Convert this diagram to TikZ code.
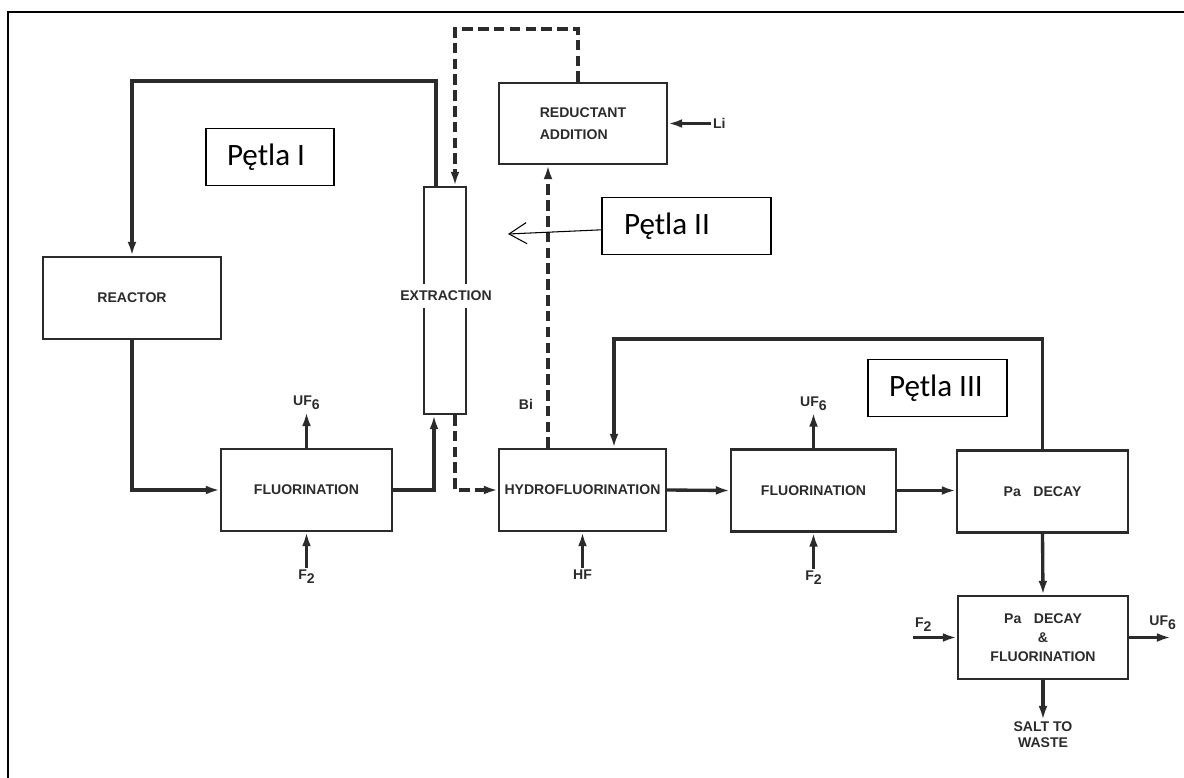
\documentclass[tikz,border=0pt]{standalone}
\usepackage{fontspec}
\setmainfont{Liberation Sans}
\newfontfamily\petlafont{Carlito}
\usepackage{tikz}
\usetikzlibrary{positioning,arrows.meta,calc}
\definecolor{ink}{HTML}{2B2B2B}
\newcommand{\lowsub}[1]{\raisebox{-0.55ex}{#1}}

\begin{document}
\begin{tikzpicture}[
  x=0.02cm, y=-0.02cm,
  stage/.style={draw=ink, line width=1.2pt, minimum height=1.64cm, inner sep=0pt, text=ink, align=center, font=\fontsize{8}{11}\selectfont\bfseries},
  lbl/.style={font=\fontsize{8}{9}\selectfont\bfseries, text=ink, inner sep=1pt, align=center},
  flow/.style={draw=ink, line width=1.9pt, -{Latex[length=8pt,width=5pt]}},
  dflow/.style={flow, line width=2.2pt, dash pattern=on 6pt off 3pt},
  pbox/.style={draw, line width=0.6pt, minimum height=1.14cm, inner xsep=0pt, align=left, font=\petlafont\fontsize{17.7}{20}\selectfont},
  pointer/.style={draw, line width=0.6pt, -{Straight Barb[length=10pt,width=12pt]}}
]
  \useasboundingbox (0,0) rectangle (1184,778);

  % --- frame ---
  \coordinate (fne) at (1184,12);
  \coordinate (fnw) at (8,12);
  \coordinate (fsw) at (8,778);
  \draw[line width=1.2pt] (fne) -- (fnw) -- (fsw);

  % --- stages ---
  \node[stage, minimum width=3.56cm] (reactor) at (132,298) {REACTOR};
  \node[stage, minimum width=3.42cm] (fluorA) at (306.5,490) {FLUORINATION};
  \node[draw=ink, line width=1.2pt, minimum width=0.84cm, minimum height=4.54cm, inner sep=0pt] (extr) at (445,300.5) {};
  \node[lbl, fill=white, inner ysep=4pt] (extrlbl) at (446,296) {EXTRACTION};
  \node[stage, minimum width=3.36cm, minimum height=1.62cm, align=left, font=\fontsize{8}{12.5}\selectfont\bfseries] (redu) at (583,123.5) {REDUCTANT\\ADDITION};
  \node[stage, minimum width=3.34cm] (hydro) at (582.5,490) {HYDROFLUORINATION};
  \node[stage, minimum width=3.30cm] (fluorB) at (813.5,490.5) {FLUORINATION};
  \node[stage, minimum width=3.42cm] (padecay) at (1042.5,491.5) {Pa\hspace{0.9em}DECAY};
  \node[stage, minimum width=3.40cm, minimum height=1.66cm] (pafluor) at (1043,637.5) {Pa\hspace{0.9em}DECAY\\\&\\FLUORINATION};

  % --- loop I ---
  \coordinate (l1) at (436,81);
  \coordinate (upln) at (434,0);
  \draw[flow] (l1 |- extr.north) -- (l1) -| (reactor.north);
  \draw[flow] (reactor.south) |- (fluorA.west);
  \draw[flow] (fluorA.east) -| (upln |- extr.south);

  % --- loop II (dashed) ---
  \coordinate (dtop) at (455,29);
  \coordinate (bln) at (548,0);
  \coordinate (rln) at (578,0);
  \draw[dflow] (dtop |- extr.south) |- (hydro.west);
  \draw[dflow] (bln |- hydro.north) -- (bln |- redu.south);
  \draw[dflow] (rln |- redu.north) |- (dtop) -- (dtop |- extr.north);
  \node[lbl] (bi) at (526,404) {Bi};

  % --- loop III ---
  \coordinate (l3) at (614,339);
  \draw[flow] (padecay.north) |- (l3) -- (l3 |- hydro.north);
  \draw[flow] (hydro.east) -- (fluorB.west);
  \draw[flow] (fluorB.east) -- (fluorB.east -| padecay.west);
  \draw[flow] (padecay.south) -- (pafluor.north);

  % --- feeds & products ---
  \node[lbl, right=0.86cm of redu] (li) {Li};
  \draw[flow] (li) -- (redu);
  \foreach \b/\t in {fluorA/F\lowsub{2}, hydro/HF, fluorB/F\lowsub{2}} {
    \node[lbl, below=0.72cm of \b] (in\b) {\t};
    \draw[flow] (in\b) -- (\b);
  }
  \foreach \b in {fluorA, fluorB} {
    \node[lbl, above=0.72cm of \b] (out\b) {UF\lowsub{6}};
    \draw[flow] (\b) -- (out\b);
  }
  \coordinate[left=0.88cm of pafluor] (f2in);
  \draw[flow] (f2in) -- (pafluor);
  \node[lbl, anchor=south west, yshift=2pt] (f2C) at (f2in) {F\lowsub{2}};
  \coordinate[right=0.84cm of pafluor] (uf6out);
  \draw[flow] (pafluor) -- (uf6out);
  \node[lbl, anchor=south east, xshift=4pt, yshift=3pt] (uf6C) at (uf6out) {UF\lowsub{6}};
  \node[lbl, below=0.8cm of pafluor, font=\fontsize{8}{8.7}\selectfont\bfseries] (waste) {SALT TO\\WASTE};
  \draw[flow] (pafluor) -- (waste);

  % --- Pętla labels ---
  \node[pbox, text width=2.56cm] (p1) at (270,157) {\hspace*{0.42cm}\spaceskip=0pt Pętla I};
  \node[pbox, text width=3.38cm] (p2) at (686.5,226) {\hspace*{0.44cm}\spaceskip=0pt Pętla II};
  \node[pbox, text width=2.78cm] (p3) at (937.5,388) {\hspace*{0.42cm}\spaceskip=0pt Pętla III};
  \coordinate (p2tip) at (508,234);
  \draw[pointer] (p2) -- (p2tip);
\end{tikzpicture}
\end{document}
